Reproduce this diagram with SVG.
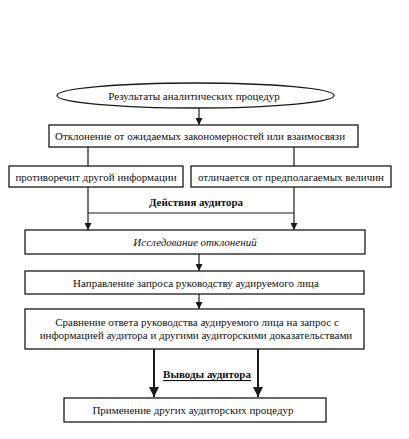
<svg xmlns="http://www.w3.org/2000/svg" width="409" height="439" viewBox="0 0 409 439">
<style>
.b{fill:#fff;stroke:#1a1a1a;stroke-width:1.3}
.t{font-family:"Liberation Serif","Times New Roman",serif;font-size:11px;fill:#111;text-anchor:middle;dominant-baseline:central}
.c{fill:none;stroke:#1a1a1a;stroke-width:1.2}
.k{fill:none;stroke:#1a1a1a;stroke-width:2}
</style>
<defs>
<marker id="a" viewBox="0 0 10 10" refX="10" refY="5" markerWidth="7" markerHeight="7" markerUnits="userSpaceOnUse" orient="auto"><path d="M0,0L10,5L0,10z" fill="#1a1a1a"/></marker>
<marker id="a2" viewBox="0 0 10 10" refX="10" refY="5" markerWidth="10" markerHeight="10" markerUnits="userSpaceOnUse" orient="auto"><path d="M0,0L10,5L0,10z" fill="#1a1a1a"/></marker>
</defs>
<rect width="409" height="439" fill="#fff"/>
<g id="connectors">
<path class="c" d="M199,108V125" marker-end="url(#a)"/>
<path class="c" d="M88,147V166M294,147V166"/>
<path class="c" d="M88,213H294"/>
<path class="c" d="M88,187V230" marker-end="url(#a)"/>
<path class="c" d="M294,187V230" marker-end="url(#a)"/>
<path class="c" d="M199,254V271" marker-end="url(#a)"/>
<path class="c" d="M199,294V309" marker-end="url(#a)"/>
<path class="k" d="M154,349V397" marker-end="url(#a2)"/>
<path class="k" d="M258,349V397" marker-end="url(#a2)"/>
<text class="t" x="196" y="202" font-weight="bold">Действия аудитора</text>
<text class="t" x="207" y="374" font-weight="bold" text-decoration="underline">Выводы аудитора</text>
</g>
<g id="n1"><ellipse class="b" cx="195.5" cy="95.5" rx="138.5" ry="12.5"/><text class="t" x="194" y="96">Результаты аналитических процедур</text></g>
<g id="n2"><rect class="b" x="49" y="125" width="309" height="22"/><text class="t" x="200" y="136">Отклонение от ожидаемых закономерностей или взаимосвязи</text></g>
<g id="n3"><rect class="b" x="9" y="166" width="174" height="21"/><text class="t" x="96" y="176.5">противоречит другой информации</text></g>
<g id="n4"><rect class="b" x="191" y="166" width="200" height="21"/><text class="t" x="291" y="176.5">отличается от предполагаемых величин</text></g>
<g id="n5"><rect class="b" x="25" y="230" width="340" height="24"/><text class="t" x="195" y="242" font-style="italic">Исследование отклонений</text></g>
<g id="n6"><rect class="b" x="25" y="271" width="339" height="23"/><text class="t" x="196" y="282.5">Направление запроса руководству аудируемого лица</text></g>
<g id="n7"><rect class="b" x="25" y="309" width="339" height="40"/><text class="t" x="197" y="321.5">Сравнение ответа руководства аудируемого лица на запрос с</text><text class="t" x="196" y="335">информацией аудитора и другими аудиторскими доказательствами</text></g>
<g id="n8"><rect class="b" x="64" y="398" width="262" height="24"/><text class="t" x="193" y="410">Применение других аудиторских процедур</text></g>
</svg>
